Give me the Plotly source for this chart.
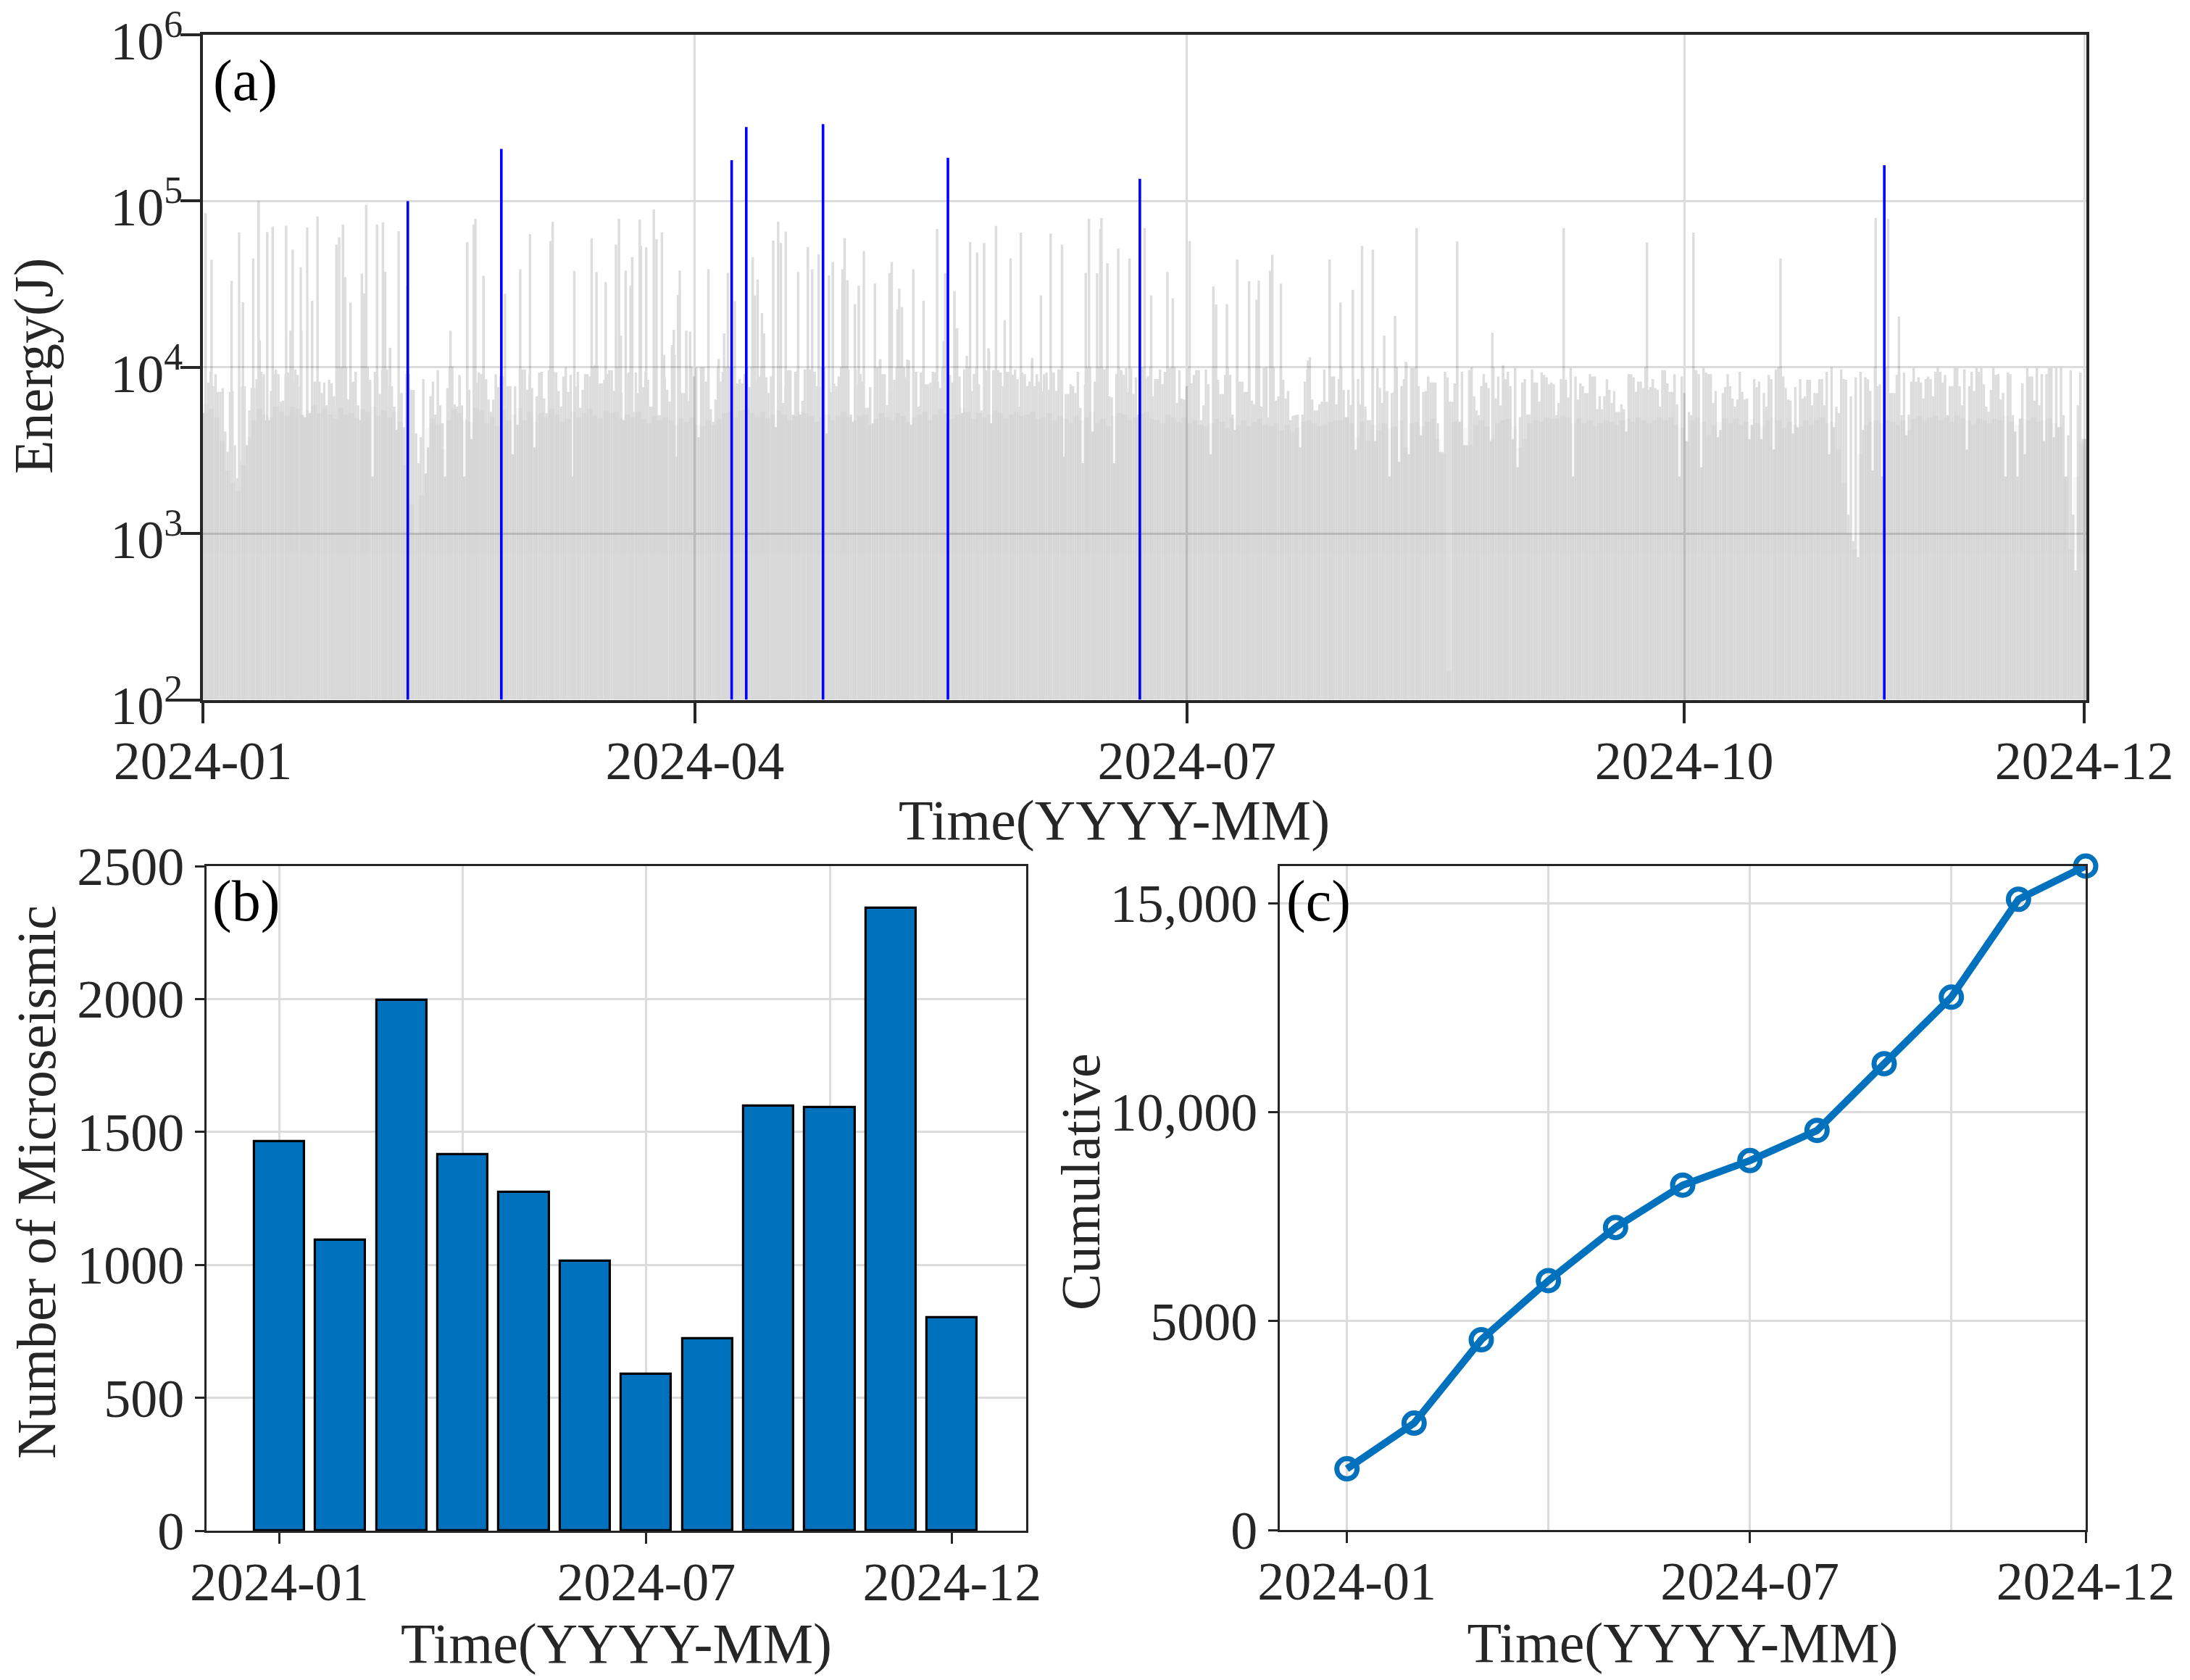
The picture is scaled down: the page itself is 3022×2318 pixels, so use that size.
import numpy as np
import pandas as pd
import plotly.graph_objects as go

W, H = 3022, 2318

# panel (a): the events that stand out above the 10^4 band (days since 2024-01-01, J)
big_days = [37.9, 55.2, 97.8, 100.5, 114.7, 137.8, 173.3, 311.0]
big_energy = [100000, 206000, 176000, 279000, 290000, 182000, 136000, 164000]

spike_days = [
    0.5, 1.6, 5.3, 6.7, 7.4, 9.3, 10.3, 10.5, 11.9, 12.9, 15.4, 16.2, 16.6, 18.1, 18.2, 19.3, 20.2, 21.2,
    24.7, 25.2, 25.9, 26.3, 27.3, 29.4, 30.2, 29.8, 32.2, 33.3, 33.7, 34.6, 36.2, 37.8, 45.8, 48.9, 50.1,
    50.4, 51.9, 55.9, 58.7, 60.5, 64.3, 64.7, 68.7,
    71.9, 72.8, 74.5, 76.4, 76.95, 77.3, 78.2, 79.1, 79.4, 80.8, 81.0, 82.0, 83.4, 83.9, 84.9, 85.3, 86.8,
    87.1, 87.9, 88.2, 89.4, 90.1, 93.5, 95.4, 96.4, 97.1, 98.4, 101.7, 102.1, 102.6, 103.4, 103.8, 105.5,
    106.4, 106.9, 107.8, 110.1, 111.9, 112.7, 113.9, 115.8, 116.5, 118.3, 118.7, 119.2, 120.6, 121.3,
    122.25, 124.3, 125.3, 127.0, 127.4, 128.5, 128.8, 129.3, 130.3, 131.4, 133.3, 135.8, 137.3, 139.0, 137.0,
    139.5, 141.9, 143.2, 144.5, 145.4, 146.7, 148.3, 149.4, 151.3, 153.4, 155.0, 156.8, 158.9, 163.3, 163.9,
    165.4, 166.0, 166.2, 167.3, 169.3, 171.4, 174.2, 175.4, 178.4, 179.4, 182.5, 186.9, 187.4, 189.4, 191.3,
    193.5, 194.9, 195.3, 197.4, 197.8, 199.4, 204.4, 208.4,
    210.4, 212.7, 214.4, 216.4, 218.5, 220.5, 222.5, 224.5, 232.0, 238.5, 240.5, 251.7, 267.1, 275.7,
    291.8, 309.4, 311.7, 313.7,
]
spike_energy = [
    84500, 44300, 33100, 64700, 24600, 45200, 100000, 14500, 65000, 70300, 71000, 16600, 51100, 40000, 16600, 69200, 25100, 80900,
    54700, 60500, 72200, 34800, 24500, 36600, 95000, 27800, 72200, 74500, 37500, 13100, 65800, 30900, 16600, 56600, 72200,
    78300, 35500, 27800, 38900, 63200, 57500, 75000, 38000,
    59900, 37400, 32500, 54700, 78300, 15500, 38100, 30900, 46000, 77600, 53800, 52600, 88900, 59000, 64700, 11900, 13500,
    16800, 27200, 38100, 16600, 16400, 38900, 11200, 16000, 37000, 25000, 46000, 27000, 33700, 21200, 16000, 58000,
    75200, 56000, 65500, 37400, 52900, 38900, 47900, 35700, 43000, 38900, 59900, 33400, 24000, 30900,
    49900, 31900, 11200, 36900, 43000, 22300, 29700, 23000, 11100, 38900, 25100, 68000, 37000, 28700, 14400,
    17200, 56600, 49100, 56000, 12400, 70900, 19200, 45200, 64500, 11400, 27100, 63800, 54700, 37000, 78300,
    36800, 68000, 79000, 42200, 51700, 45200, 68800, 27100, 37400, 26000, 57500, 30600, 23900, 24000, 44500,
    32900, 25500, 33300, 38100, 47500, 31800, 11000, 44500,
    24500, 29300, 53800, 51000, 15500, 20400, 10800, 68800, 57200, 16100, 10300, 68800, 56300, 64500,
    45200, 79000, 78300, 20200,
]

# panel (a): top of the dense band, read left to right across the year
band_energy = [
    5300, 5300, 8100, 9400, 7700, 9100, 7100, 7100, 7500, 4100, 3100, 7100, 7200, 3400, 2150, 2700, 7700, 7700, 3400, 5500,
    7500, 7500, 8500, 8500, 9400, 9100, 4800, 4800, 7200, 9100, 9700, 9100, 6200, 6300, 9100, 9300, 5000, 8500, 9700, 9000,
    7600, 5150, 5000, 5000, 5300, 5300, 8200, 8200, 8200, 7000, 8100, 5900, 8400, 8000, 6700, 5900, 10000, 10000, 5700, 10000,
    6400, 8100, 8200, 9400, 5900, 4800, 10000, 10000, 10000, 8400, 2200, 9400, 8800, 6900, 9600, 9700, 9700, 7700, 7700, 5800,
    4200, 6900, 7000, 4360, 9100, 9100, 7300, 7300, 4000, 2650, 3800, 8500, 2300, 3300, 6700, 8200, 5200, 9600, 5900, 4600,
    2200, 7500, 10100, 10100, 6000, 5800, 9000, 5900, 2200, 4900, 7300, 3700, 6700, 8100, 9300, 9100, 9400, 8500, 6400, 5400,
    6400, 9100, 7600, 8800, 8800, 5700, 7700, 7700, 3000, 7700, 4500, 9900, 9700, 9700, 7300, 9100, 7500, 3300, 6700, 9300,
    9400, 6500, 5300, 9600, 10000, 9400, 9300, 7200, 5800, 8800, 10000, 7100, 9000, 2200, 7700, 9400,
    5700, 7300, 9100, 9100, 8800, 10100, 10300, 10300, 8000, 8000, 8400, 9100, 9600, 9600, 7200, 10000, 10000, 7000, 4800, 9100,
    9300, 9100, 5400, 9300, 7000, 10000, 7600, 9400, 8400, 5800, 5800, 10000, 5150, 5150, 11500, 8700, 7300, 6200, 13600, 11900,
    2900, 11000, 7000, 7000, 10000, 6300, 10000, 8800, 10000, 3800, 10000, 10000, 8200, 8400, 5600, 4700, 6400, 10000, 8200, 9400,
    10000, 10000, 10000, 10000, 7900, 8000, 8500, 8000, 9100, 10000, 7600, 10000, 10000, 8200, 8800, 10000, 8700, 8700, 7000, 8800,
    10000, 4360, 10300, 7900, 6100, 7700, 9600, 9600, 5200, 9400, 9600, 5200, 6300, 9700, 9700, 9700, 9600, 9400, 7700, 7600,
    10000, 10000, 4000, 7700, 7100, 8000, 7700, 8800, 10000, 10000, 10000, 9700, 5200, 4700, 9700, 8000, 9100, 8200, 5700, 5700,
    7600, 4600, 7200, 10000, 11000, 9100, 9100, 5900, 7200, 7700, 8400, 10000, 10000, 10000, 10000, 8700, 11000, 4500, 9600, 9400,
    5800, 9300, 9600, 7900, 7900, 8100, 9400, 9300, 8200, 7500, 10000, 14400, 4500, 9000, 8100, 17000,
    8800, 8800, 5300, 9700, 11700, 10000, 7200, 9100, 10000, 7900, 5500, 5300, 9600, 13000, 4600, 9600, 9700, 9600, 9300, 7700,
    9400, 9400, 9400, 9000, 9700, 8500, 5800, 9300, 9100, 7700, 8200, 11000, 7700, 9100, 8200, 7200, 9100, 9300, 7300, 9400,
    9300, 7200, 9700, 9700, 2900, 6900, 6900, 7900, 7700, 7000, 9400, 5700, 2650, 7900, 10000, 10000, 4100, 8200, 10000, 10000,
    10000, 9700, 10000, 6700, 6600, 2650, 9100, 10000, 9600, 9000, 9900, 7100, 9900, 6900, 8700, 5200, 10000, 10000, 8500, 8800,
    10000, 6700, 8500, 8500, 9700, 7900, 9400, 9700, 9900, 10000, 10000, 6100, 9600, 6500, 6400, 7700, 10000, 8000, 9000, 9600,
    9600, 4800, 5900, 9700, 7900, 3000, 10000, 10000, 8400, 6900, 6900, 9000, 10000, 9000, 5200, 4200, 10000, 8200, 8200, 7100,
    7100, 10000, 6300, 6000, 10000, 10000, 5800, 9900, 10000, 5000, 10000, 10000, 6300, 6700, 10000, 8400, 6500, 7200, 4800, 5100,
    5150, 5200, 3300, 5200, 8200, 9700, 11500, 6400, 5500, 5500, 6000, 6200, 9700, 6200, 6100, 8800,
    8800, 6000, 8500, 10000, 7300, 5000, 7300, 5900, 8500, 3200, 8500, 6000, 10000, 5800, 4800, 4800, 10000, 3600, 9900, 7500,
    6100, 7200, 7200, 2200, 7000, 7100, 10000, 2700, 7700, 8500, 10600, 3000, 9900, 9900, 10000, 7700, 3900, 7100, 7200, 8800,
    8100, 8100, 8100, 4600, 3100, 3100, 9400, 8700, 6200, 6200, 8000, 10000, 4700, 9400, 3400, 3400, 9600, 10000, 6700, 5500,
    5150, 7700, 9100, 8100, 7500, 3600, 10000, 6500, 8800, 5900, 10100, 8500, 9400, 7700, 3700, 9900, 2500, 5000, 8100, 8500,
    5200, 5200, 9700, 8100, 8100, 6200, 9300, 9000, 8700, 7900, 8100, 7900, 5150, 6100, 8500, 8500, 8400, 6600, 9900, 2200,
    8800, 6400, 8000, 7700, 7000, 7000, 9100, 8800, 8800, 5600, 6700, 5600, 6700, 8500, 7300, 6100, 7200, 5400, 5400, 6000,
    5600, 4100, 9100, 9100, 8700, 7100, 8200, 8200, 7500, 10000, 7300, 7600, 8500, 7500, 7300, 5800, 9600, 9600, 8000, 7100,
    7100, 9100, 6000, 2200, 8800, 7000, 3600, 5400, 5150, 9700, 9600, 9100, 2500, 9900, 9300, 9100,
    9100, 6100, 7200, 3800, 4200, 7000, 7600, 9100, 7700, 6500, 5800, 6400, 9400, 7100, 6400, 6500, 3700, 4500, 8500, 7600,
    8200, 3700, 7000, 5800, 9000, 8500, 3200, 9700, 10000, 10000, 8800, 7500, 6400, 6300, 4000, 7600, 4360, 8500, 6500, 6700,
    8400, 8400, 5900, 7000, 7000, 8500, 8500, 5900, 9400, 3000, 10000, 4360, 5800, 5300, 9700, 8500, 8400, 1300, 6700, 900,
    8700, 720, 9400, 4200, 8700, 8500, 7200, 2400, 10000, 7700, 7900, 2200, 9900, 10000, 7000, 7000, 7000, 9000, 10000, 5150,
    9300, 3900, 5200, 8200, 9900, 8200, 8700, 8100, 6500, 8500, 8800, 8500, 6700, 9400, 9900, 9400, 8100, 9000, 5150, 7700,
    7700, 9900, 9900, 7700, 5900, 9700, 3200, 7700, 9400, 7200, 9900, 9400, 9900, 7900, 5800, 5400, 7300, 9900, 9000, 9100,
    6400, 7000, 2200, 9300, 9100, 5150, 4100, 2200, 4900, 8000, 3000, 9900, 8800, 8800, 6300, 9900, 5900, 9100, 3600, 9100,
    9900, 9900, 3800, 9900, 4360, 9900, 5150, 2200, 3900, 9600, 1300, 600, 5900, 9300, 3700, 3700,
]

# panel (a): where the fill turns solid, one reading per day
core_energy = [
    6000, 5600, 5000, 3600, 2400, 2000, 1800, 2600, 3800, 4800, 5600, 5200, 5000, 5800, 5400, 5100, 5800, 5600, 5200, 5500,
    5900, 5300, 5600, 5200, 4900, 5700, 5200, 5300, 4900, 5600, 5400, 5800, 5100, 5500, 5000, 5400, 4700, 2600, 1500, 1000,
    1700, 4300, 4900, 4500, 3200, 4800, 5600, 5300, 4800, 4700, 5700, 5500, 4600, 5000, 4400, 5500, 4800, 5200, 5700, 4800,
    5400, 4700, 5300, 5000, 5600, 5200, 4700, 4900, 5400, 5000, 5300, 5600, 5100, 4900, 5500, 5300, 5400, 4900, 5200, 5000,
    5400, 4900, 4600, 5100, 4800, 5000, 4800, 4500, 4900, 4700, 5000, 4500, 4400, 4800, 4500, 4900, 5300, 5400, 5000, 5500,
    5600, 5300, 5000, 5400, 4900, 5200, 5500, 5200, 4800, 5100, 5400, 5300, 5100, 4700, 5000, 5200, 4800, 5100, 5400, 5000,
    4800, 5100, 5200, 4500, 4900, 5300, 5000, 4800, 5300, 5100, 4700, 5000, 5200, 5400, 4800, 5200, 5600, 5300, 4900, 5200,
    5700, 5400, 4900, 5300, 5000, 5200, 5500, 5300, 4900, 5200, 5400, 5100, 5200, 5400, 4900, 5000, 5300, 4800, 5100, 4900,
    4600, 5100, 4800, 5000, 5400, 4600, 4900, 4400, 5100, 5300, 5200, 4800, 5000, 5300, 5400, 4900, 4800, 4600, 5200, 5000,
    4700, 5000, 4600, 4800, 4500, 4400, 4600, 4900, 4700, 4300, 4900, 4500, 4800, 4400, 4700, 4900, 4500, 4400, 4600, 4200,
    4500, 4100, 4300, 4700, 4800, 4600, 4400, 4500, 4700, 4800, 4800, 5000, 4600, 3800, 4700, 3600, 4500, 4200, 4600, 4300,
    4400, 4800, 3300, 4600, 4700, 4400, 4700, 4900, 3700, 3000, 150, 4700, 4800, 4300, 3400, 4500, 4800, 4400, 3700, 4600,
    4800, 4900, 4400, 3300, 3700, 4600, 4800, 4700, 5000, 4900, 4900, 5100, 5000, 4600, 4900, 4600, 4800, 4400, 4600, 4800,
    4700, 4500, 4800, 4900, 4700, 5000, 4800, 4600, 4800, 5000, 4800, 5000, 4500, 4300, 3600, 4800, 5000, 4700, 3900, 4500,
    4700, 4900, 4600, 4900, 4500, 4700, 4900, 4600, 4400, 4800, 5000, 4800, 4300, 4700, 4500, 4400, 4800, 4500, 4800, 5000,
    4600, 4700, 3200, 2000, 1000, 800, 3000, 4500, 4700, 4800, 4600, 4800, 4700, 4500, 4800, 4200, 4900, 5100, 4800, 5000,
    5100, 4800, 5000, 4700, 5100, 4900, 4800, 4500, 4900, 4800, 4600, 4900, 4800, 5100, 4700, 4500, 4900, 4800, 5000, 4700,
    4800, 4900, 4600, 4400, 2200, 800, 2200, 3500,
]

# panels (b) and (c)
months = ["2024-01", "2024-02", "2024-03", "2024-04", "2024-05", "2024-06",
          "2024-07", "2024-08", "2024-09", "2024-10", "2024-11", "2024-12"]
month_index = list(range(12))
monthly_count = [1465, 1092, 1995, 1416, 1272, 1013, 588, 722, 1597, 1593, 2342, 801]
cumulative = [1465, 2557, 4552, 5968, 7240, 8253, 8841, 9563, 11160, 12753, 15095, 15890]

a_ticks = ["2024-01-01", "2024-04-01", "2024-07-01", "2024-10-01", "2024-12-14"]
a_ticktext = ["2024-01", "2024-04", "2024-07", "2024-10", "2024-12"]
a_yticks = [100, 1000, 10000, 100000, 1000000]
a_yticktext = ["10<sup>2</sup>", "10<sup>3</sup>", "10<sup>4</sup>", "10<sup>5</sup>", "10<sup>6</sup>"]

FONT = "Liberation Serif"
INK = "#262626"
GRID = "#dcdcdc"
BLUE = "#0071bd"


def to_date(days):
    return pd.Timestamp("2024-01-01") + pd.to_timedelta(np.asarray(days, dtype=float), unit="D")


def stems(days, energy):
    xs, ys = [], []
    for d, e in zip(to_date(days), energy):
        xs += [d, d, None]
        ys += [100, e, None]
    return xs, ys


def xdom(a, b):
    return [a / W, b / W]


def ydom(top, bottom):
    return [1 - bottom / H, 1 - top / H]


band_days = np.arange(len(band_energy)) * 0.4468 + 0.1
core_days = np.arange(len(core_energy)) + 0.5

fig = go.Figure()

# trace opacity flattens the stems, so overlaps do not add up and the grid still shows through
sx, sy = stems(list(spike_days) + list(band_days), list(spike_energy) + list(band_energy))
fig.add_trace(go.Scatter(x=sx, y=sy, mode="lines", xaxis="x", yaxis="y", showlegend=False, opacity=0.13,
                         line=dict(color="#000000", width=3.4, simplify=False)))
cx, cy = stems(core_days, core_energy)
fig.add_trace(go.Scatter(x=cx, y=cy, mode="lines", xaxis="x", yaxis="y", showlegend=False, opacity=0.025,
                         line=dict(color="#000000", width=7.5, simplify=False)))
bx, by = stems(big_days, big_energy)
fig.add_trace(go.Scatter(x=bx, y=by, mode="lines", xaxis="x", yaxis="y", showlegend=False,
                         line=dict(color="#0000ff", width=3.6, simplify=False)))

fig.add_trace(go.Bar(x=month_index, y=monthly_count, xaxis="x2", yaxis="y2", width=0.82, showlegend=False,
                     marker=dict(color=BLUE, line=dict(color="#000000", width=3.2))))
# empty traces so the labelled overlay axes get drawn
fig.add_trace(go.Scatter(x=month_index, y=monthly_count, mode="none", xaxis="x4", yaxis="y2", showlegend=False,
                         hoverinfo="skip"))

fig.add_trace(go.Scatter(x=month_index, y=cumulative, mode="lines+markers", xaxis="x3", yaxis="y3",
                         showlegend=False, cliponaxis=False,
                         line=dict(color=BLUE, width=10),
                         marker=dict(symbol="circle-open", size=28, color=BLUE, line=dict(color=BLUE, width=7))))
fig.add_trace(go.Scatter(x=month_index, y=cumulative, mode="none", xaxis="x5", yaxis="y3", showlegend=False,
                         hoverinfo="skip"))

tick_font = dict(family=FONT, size=74, color=INK)
title_font = dict(family=FONT, size=76, color=INK)
time_font = dict(family=FONT, size=78, color=INK)


def frame(line_width, tick_len):
    return dict(showline=True, linecolor=INK, linewidth=line_width, mirror=True, ticks="outside",
                ticklen=tick_len, tickwidth=line_width, tickcolor=INK, tickfont=tick_font,
                showgrid=True, gridcolor=GRID, gridwidth=3, zeroline=False, automargin=False,
                ticklabeloverflow="allow")


fig.update_layout(
    width=W, height=H, margin=dict(l=0, r=0, t=0, b=0),
    paper_bgcolor="white", plot_bgcolor="white", showlegend=False, bargap=0,
    font=dict(family=FONT, color=INK),
    xaxis=dict(frame(4, 28), domain=xdom(280, 2879), anchor="y", type="date",
               range=["2024-01-01", "2024-12-14 09:00"], tickmode="array",
               tickvals=a_ticks, ticktext=a_ticktext, ticklabelstandoff=-11),
    yaxis=dict(frame(4, 27), domain=ydom(48, 965.5), anchor="x", type="log", range=[2, 6],
               tickmode="array", tickvals=a_yticks, ticktext=a_yticktext,
               ticklabelstandoff=-18, ticklabelshift=8),
    # gridlines of (b) and (c) fall every three months, labelled ticks do not
    xaxis2=dict(frame(3, 0), domain=xdom(285, 1416), anchor="y2", range=[-1.19, 12.21], tickmode="array",
                tickvals=[0, 3, 6, 9], ticks="", showticklabels=False),
    yaxis2=dict(frame(3, 13), domain=ydom(1195, 2112), anchor="x2", range=[0, 2500], tickmode="array",
                tickvals=[0, 500, 1000, 1500, 2000, 2500], ticktext=["0", "500", "1000", "1500", "2000", "2500"]),
    xaxis4=dict(frame(3, 15), overlaying="x2", anchor="y2", range=[-1.19, 12.21], showgrid=False,
                tickmode="array", tickvals=[0, 6, 11], ticktext=[months[0], months[6], months[11]],
                ticklabelstandoff=-11, title=dict(text="Time(YYYY-MM)", font=time_font, standoff=13)),
    xaxis3=dict(frame(3, 0), domain=xdom(1766, 2878), anchor="y3", range=[-1, 11], tickmode="array",
                tickvals=[0, 3, 6, 9], ticks="", showticklabels=False),
    yaxis3=dict(frame(3, 13), domain=ydom(1195, 2111), anchor="x3", range=[0, 15890], tickmode="array",
                tickvals=[0, 5000, 10000, 15000], ticktext=["0", "5000", "10,000", "15,000"]),
    xaxis5=dict(frame(3, 15), overlaying="x3", anchor="y3", range=[-1, 11], showgrid=False,
                tickmode="array", tickvals=[0, 6, 11], ticktext=[months[0], months[6], months[11]],
                ticklabelstandoff=-11, title=dict(text="Time(YYYY-MM)", font=time_font, standoff=13)),
)

panel_font = dict(family=FONT, size=80, color="#000000")
for text, px, py in [("(a)", 292, 112), ("(b)", 291, 1243), ("(c)", 1773, 1243)]:
    fig.add_annotation(text=text, xref="paper", yref="paper", x=px / W, y=1 - py / H, xanchor="left",
                       yanchor="middle", showarrow=False, font=panel_font)
fig.add_annotation(text="Time(YYYY-MM)", xref="paper", yref="paper", x=1538 / W, y=1 - 1131 / H,
                   xanchor="center", yanchor="middle", showarrow=False, font=time_font)
# these y titles sit off the panel centres in the source figure
for text, px, py in [("Energy(J)", 46, 505), ("Number of Microseismic", 50, 1631), ("Cumulative", 1491, 1631)]:
    fig.add_annotation(text=text, xref="paper", yref="paper", x=px / W, y=1 - py / H, textangle=-90,
                       xanchor="center", yanchor="middle", showarrow=False, font=title_font)

fig.write_html("out.html", config=dict(displayModeBar=False), post_script="document.body.style.margin='0';")
